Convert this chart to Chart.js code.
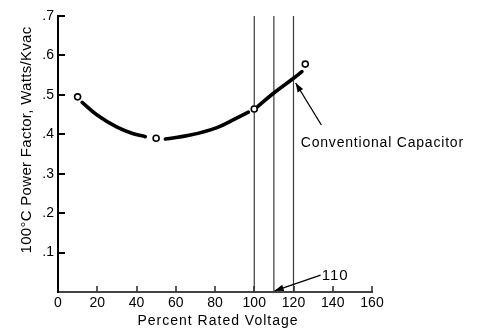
<!DOCTYPE html>
<html>
<head>
<meta charset="utf-8">
<script src="https://cdn.jsdelivr.net/npm/chart.js@4.4.1/dist/chart.umd.min.js"></script>
<style>
html,body{margin:0;padding:0;background:#fff;}
canvas{display:block;}
</style>
</head>
<body>
<canvas id="c" width="492" height="330"></canvas>
<script>
// ---- data ----
const xTickValues = [0, 20, 40, 60, 80, 100, 120, 140, 160];
const xTickLabels = ['0', '20', '40', '60', '80', '100', '120', '140', '160'];
const yTickValues = [0, 0.1, 0.2, 0.3, 0.4, 0.5, 0.6, 0.7];
const yTickLabels = ['', '.1', '.2', '.3', '.4', '.5', '.6', '.7'];

const circleX = [10, 50, 100, 126];
const circleY = [0.495, 0.390, 0.464, 0.578];

const seg1X = [12.3, 19.9, 30.1, 38, 44.5];
const seg1Y = [0.481, 0.449, 0.418, 0.402, 0.394];
const seg2X = [54.7, 67.4, 81, 91, 97];
const seg2Y = [0.388, 0.398, 0.417, 0.441, 0.456];
const seg3X = [101.7, 109.8, 120, 124.3];
const seg3Y = [0.470, 0.504, 0.542, 0.559];

const refLineX = [100, 110, 120];
const refLineTop = 0.7;

const xTitle = 'Percent Rated Voltage';
const yTitle = '100°C Power Factor, Watts/Kvac';
const capLabel = 'Conventional Capacitor';
const refLabel = '110';

// annotation anchors in data units
const capArrowFrom = [134.2, 0.4235];
const capArrowTo = [121.1, 0.530];
const capTextAt = [123.7, 0.378];
const refArrowFrom = [133.8, 0.043];
const refArrowTo = [110.4, 0.003];
const refTextAt = [134.4, 0.0406];

const pts = (xs, ys) => xs.map((x, i) => ({x: x, y: ys[i]}));
const FONT = '"Liberation Sans", Arial, Helvetica, sans-serif';
const INK = '#000';

const datasets = [];
refLineX.forEach(v => datasets.push({
  data: [{x: v, y: 0}, {x: v, y: refLineTop}],
  showLine: true, borderColor: '#3a3a3a', borderWidth: 1.2,
  pointRadius: 0, fill: false, order: 3
}));
[[seg1X, seg1Y], [seg2X, seg2Y], [seg3X, seg3Y]].forEach(s => datasets.push({
  data: pts(s[0], s[1]),
  showLine: true, borderColor: INK, borderWidth: 3.6,
  borderCapStyle: 'round', tension: 0.4,
  pointRadius: 0, fill: false, order: 2
}));
datasets.push({
  data: pts(circleX, circleY),
  showLine: false, pointRadius: 3, pointBorderWidth: 1.6,
  pointBackgroundColor: '#fff', pointBorderColor: INK, order: 1
});

function arrow(ctx, x1, y1, x2, y2, len, half) {
  ctx.beginPath();
  ctx.moveTo(x1, y1);
  ctx.lineTo(x2, y2);
  ctx.stroke();
  const a = Math.atan2(y2 - y1, x2 - x1);
  ctx.beginPath();
  ctx.moveTo(x2, y2);
  ctx.lineTo(x2 - len * Math.cos(a) + half * Math.sin(a), y2 - len * Math.sin(a) - half * Math.cos(a));
  ctx.lineTo(x2 - len * Math.cos(a) - half * Math.sin(a), y2 - len * Math.sin(a) + half * Math.cos(a));
  ctx.closePath();
  ctx.fill();
}

const decor = {
  id: 'decor',
  afterDraw(chart) {
    const ctx = chart.ctx, xs = chart.scales.x, ys = chart.scales.y, ca = chart.chartArea;
    ctx.save();
    // inward tick marks
    ctx.strokeStyle = INK;
    ctx.lineWidth = 2;
    yTickValues.forEach(v => {
      if (v === 0) return;
      const y = Math.round(ys.getPixelForValue(v));
      ctx.beginPath(); ctx.moveTo(ca.left, y); ctx.lineTo(ca.left + 7, y); ctx.stroke();
    });
    ctx.strokeStyle = '#333';
    ctx.lineWidth = 1.6;
    xTickValues.forEach(v => {
      if (v === 0) return;
      const x = Math.round(xs.getPixelForValue(v));
      ctx.beginPath(); ctx.moveTo(x, ca.bottom); ctx.lineTo(x, ca.bottom - 6); ctx.stroke();
    });
    // annotations
    ctx.strokeStyle = INK; ctx.fillStyle = INK; ctx.lineWidth = 1.3;
    arrow(ctx, xs.getPixelForValue(capArrowFrom[0]), ys.getPixelForValue(capArrowFrom[1]),
               xs.getPixelForValue(capArrowTo[0]), ys.getPixelForValue(capArrowTo[1]), 9, 3.2);
    arrow(ctx, xs.getPixelForValue(refArrowFrom[0]), ys.getPixelForValue(refArrowFrom[1]),
               xs.getPixelForValue(refArrowTo[0]), ys.getPixelForValue(refArrowTo[1]), 9, 3.2);
    ctx.textBaseline = 'middle';
    ctx.textAlign = 'left';
    ctx.font = '14px ' + FONT;
    ctx.letterSpacing = '0.8px';
    ctx.fillText(capLabel, xs.getPixelForValue(capTextAt[0]), ys.getPixelForValue(capTextAt[1]));
    ctx.font = '15px ' + FONT;
    ctx.letterSpacing = '1px';
    ctx.fillText(refLabel, xs.getPixelForValue(refTextAt[0]), ys.getPixelForValue(refTextAt[1]));
    // axis titles
    ctx.textAlign = 'center';
    ctx.font = '14px ' + FONT;
    ctx.letterSpacing = '1px';
    ctx.fillText(xTitle, (ca.left + ca.right) / 2 + 3, 321);
    ctx.save();
    ctx.translate(26.5, (ca.top + ca.bottom) / 2 - 14);
    ctx.rotate(-Math.PI / 2);
    ctx.font = '15px ' + FONT;
    ctx.letterSpacing = '0.3px';
    ctx.fillText(yTitle, 0, 0);
    ctx.restore();
    ctx.restore();
  }
};

new Chart(document.getElementById('c'), {
  type: 'scatter',
  data: {datasets: datasets},
  options: {
    responsive: false,
    animation: false,
    devicePixelRatio: 1,
    layout: {padding: {left: 0, right: 120, top: 16, bottom: 0}},
    plugins: {legend: {display: false}, tooltip: {enabled: false}},
    scales: {
      x: {
        type: 'linear', min: 0, max: 160,
        afterBuildTicks: s => { s.ticks = xTickValues.map(v => ({value: v})); },
        afterFit: s => { s.height = 38; },
        grid: {display: false, drawTicks: false},
        border: {display: true, color: '#444', width: 2},
        ticks: {
          padding: 3, color: INK,
          font: {family: FONT, size: 14},
          maxRotation: 0, autoSkip: false,
          callback: (v, i) => xTickLabels[i]
        }
      },
      y: {
        type: 'linear', min: 0, max: 0.7,
        afterBuildTicks: s => { s.ticks = yTickValues.map(v => ({value: v})); },
        afterFit: s => { s.width = 58; },
        grid: {display: false, drawTicks: false},
        border: {display: true, color: INK, width: 2},
        ticks: {
          padding: 4, color: INK,
          font: {family: FONT, size: 14},
          autoSkip: false,
          callback: (v, i) => yTickLabels[i]
        }
      }
    }
  },
  plugins: [decor]
});
</script>
</body>
</html>
